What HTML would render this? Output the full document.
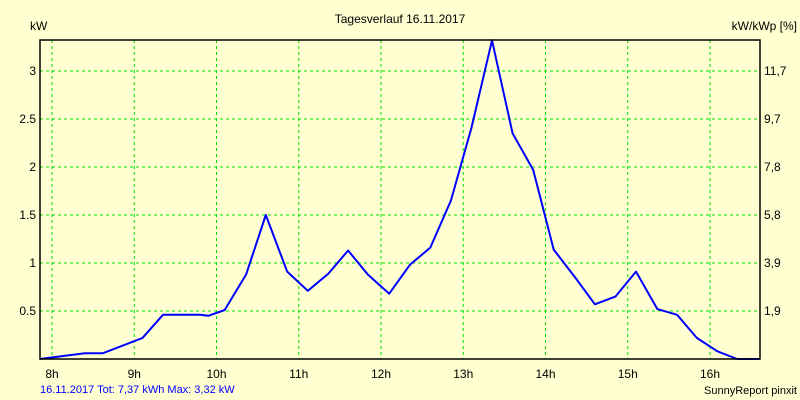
<!DOCTYPE html>
<html><head><meta charset="utf-8">
<style>
body{margin:0;background:#ffffd2;}
svg{display:block;font-family:"Liberation Sans",sans-serif;}
</style></head>
<body>
<svg id="chart" width="800" height="400" viewBox="0 0 800 400">
<rect x="0" y="0" width="800" height="400" fill="#ffffd2"/>
<text x="400" y="23" font-size="12" text-anchor="middle">Tagesverlauf 16.11.2017</text>
<text x="30" y="30" font-size="12">kW</text>
<text x="797" y="30" font-size="12" text-anchor="end">kW/kWp [%]</text>
<g id="grid"></g>
<g id="labels"></g>
<polyline id="line" fill="none" stroke="#0000ff" stroke-width="2" stroke-linejoin="round"/>
<rect x="40" y="40" width="720" height="319" fill="none" stroke="#000" stroke-width="1.5"/>
<text x="40" y="393" font-size="11" fill="#0000ff">16.11.2017 Tot: 7,37 kWh Max: 3,32 kW</text>
<text x="797" y="394" font-size="11" text-anchor="end">SunnyReport pinxit</text>
</svg>
<script>
const hours=[7.85,8.4,8.62,9.1,9.35,9.8,9.9,10.1,10.36,10.6,10.86,11.11,11.36,11.6,11.84,12.1,12.35,12.6,12.85,13.1,13.35,13.6,13.85,14.1,14.36,14.6,14.85,15.1,15.36,15.6,15.84,16.09,16.33,16.6];
const power=[0,0.06,0.06,0.22,0.46,0.46,0.45,0.51,0.88,1.5,0.91,0.71,0.89,1.13,0.88,0.68,0.98,1.16,1.65,2.41,3.32,2.35,1.97,1.14,0.85,0.57,0.65,0.91,0.52,0.46,0.22,0.08,0,0];
const xTicks=[8,9,10,11,12,13,14,15,16];
const yTicks=[0.5,1,1.5,2,2.5,3];
const yTickLabels=["0.5","1","1.5","2","2.5","3"];
const rightTickLabels=["1,9","3,9","5,8","7,8","9,7","11,7"];
const NS="http://www.w3.org/2000/svg";
const X0=40,X1=760,Y0=359;
function xs(h){return 52+(h-8)*82.25;}
function ys(v){return Y0-v*96;}
const grid=document.getElementById('grid'),labels=document.getElementById('labels');
function mk(tag,attrs,parent){const e=document.createElementNS(NS,tag);for(const k in attrs)e.setAttribute(k,attrs[k]);parent.appendChild(e);return e;}
xTicks.forEach(h=>{
  const l=mk('line',{x1:xs(h),x2:xs(h),y1:40,y2:Y0,stroke:'#00e000','stroke-dasharray':'3,3'},grid);
  
  
  const t=mk('text',{x:xs(h),y:378,'font-size':12,'text-anchor':'middle'},labels);
  t.textContent=h+'h';
  
  
});
yTicks.forEach((v,i)=>{
  const l=mk('line',{x1:X0,x2:X1,y1:ys(v),y2:ys(v),stroke:'#00e000','stroke-dasharray':'3,3'},grid);
  
  
  const t=mk('text',{x:36,y:ys(v)+4,'font-size':12,'text-anchor':'end'},labels);
  t.textContent=yTickLabels[i];
  
  
  const r=mk('text',{x:764,y:ys(v)+4,'font-size':12},labels);
  r.textContent=rightTickLabels[i];
  
  
});
document.getElementById('line').setAttribute('points',hours.map((h,i)=>xs(h).toFixed(1)+','+ys(power[i]).toFixed(1)).join(' '));
</script>
</body></html>
